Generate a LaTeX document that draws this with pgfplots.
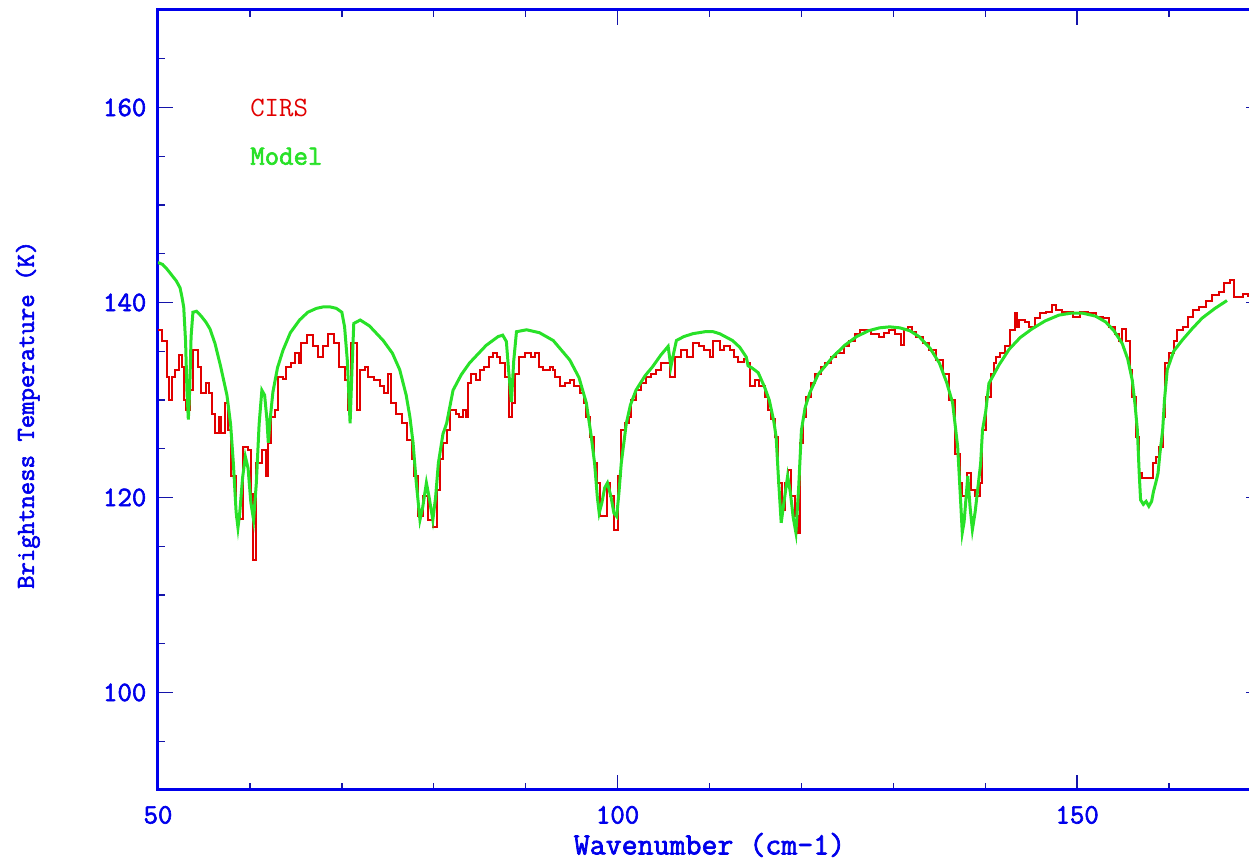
\documentclass[border=0pt]{standalone}
\usepackage{fontspec}
\setmonofont[AutoFakeBold=2.2]{Latin Modern Mono}
\usepackage{pgfplots}
\usepackage{pgfplotstable}
\pgfplotsset{compat=1.18}

\definecolor{axblue}{RGB}{0,0,235}
\definecolor{tickblue}{RGB}{20,20,170}
\definecolor{cirsred}{RGB}{225,0,0}
\definecolor{modelgreen}{RGB}{40,225,40}

% Observed CIRS brightness temperature (binned spectrum, drawn as steps)
\pgfplotstableread{
x y
50.0 137.2
50.4 136.1
51.0 132.4
51.2 130.0
51.5 132.4
51.8 133.1
52.3 134.6
52.6 133.4
52.85 130.0
53.1 129.0
53.5 131.0
53.8 135.1
54.4 133.4
54.7 130.7
55.2 131.7
55.5 130.7
55.9 128.6
56.2 126.6
56.6 128.3
56.9 126.6
57.3 129.7
57.6 126.9
57.9 122.2
58.5 118.0
58.9 117.8
59.3 125.2
59.8 124.9
60.1 120.4
60.35 113.6
60.7 123.5
61.3 124.9
61.7 122.2
62.0 125.6
62.3 128.3
62.7 129.0
63.1 132.4
63.6 132.2
63.9 133.4
64.5 133.8
64.9 134.8
65.3 133.8
65.6 135.8
66.2 136.65
66.9 135.5
67.4 134.4
67.9 135.5
68.5 136.8
69.2 135.8
69.7 133.4
70.3 132.0
70.7 129.0
71.0 135.8
71.6 129.0
72.0 133.1
72.5 133.4
72.9 132.4
73.5 132.0
74.1 131.4
74.6 130.7
75.0 132.7
75.4 129.7
75.9 128.6
76.5 127.6
77.1 125.9
77.6 123.9
77.9 122.2
78.3 118.05
78.8 120.1
79.4 117.7
79.9 117.0
80.3 120.8
80.7 123.9
81.0 125.6
81.4 126.9
81.8 129.0
82.4 128.6
82.8 128.3
83.2 129.0
83.5 128.3
83.7 131.7
84.1 132.7
84.6 132.0
85.0 133.1
85.5 133.4
86.0 134.4
86.5 134.8
86.9 134.4
87.2 133.8
87.7 132.4
88.2 128.3
88.5 129.7
88.8 132.7
89.3 134.4
89.9 134.8
90.6 134.4
91.0 134.8
91.4 133.4
91.9 133.1
92.6 133.4
93.0 133.1
93.2 132.4
93.7 131.4
94.3 131.7
94.8 132.0
95.3 131.4
95.9 130.7
96.3 129.7
96.6 128.3
97.0 126.2
97.4 123.5
97.8 121.5
98.1 118.05
98.8 121.5
99.2 120.1
99.6 116.7
100.0 122.2
100.4 126.9
100.8 127.6
101.2 128.3
101.5 130.0
102.0 131.0
102.6 131.7
103.1 132.4
103.6 132.7
104.2 133.1
104.7 133.8
105.7 132.4
106.2 134.4
106.9 135.1
107.6 134.4
108.2 135.8
108.9 135.5
109.4 135.1
110.0 134.4
110.4 136.1
111.1 135.1
111.6 135.5
112.2 135.1
112.7 134.4
113.1 133.9
113.7 134.2
114.1 133.8
114.4 131.4
114.9 132.0
115.4 131.4
116.0 130.3
116.4 129.0
116.7 128.0
117.1 126.2
117.5 121.5
117.9 118.7
118.2 121.5
118.5 122.8
118.9 120.1
119.3 118.05
119.6 116.4
119.9 125.6
120.2 128.3
120.5 130.3
121.0 131.7
121.5 132.7
122.1 133.4
122.6 133.8
123.2 134.4
123.8 134.8
124.6 135.5
125.2 136.1
125.8 136.8
126.4 137.2
127.6 136.8
128.4 136.5
129.0 136.9
129.5 137.2
130.2 136.8
130.8 135.6
131.2 137.3
131.6 137.5
132.0 137.0
132.5 136.5
133.2 135.8
133.9 135.1
134.6 134.1
135.4 132.7
136.1 130.0
136.7 124.5
137.2 121.5
137.5 120.1
138.0 122.5
138.4 120.8
138.9 120.1
139.4 121.5
139.7 126.9
140.1 130.3
140.6 132.7
141.0 133.8
141.2 134.4
141.6 134.8
142.1 135.5
142.7 137.2
143.2 138.9
143.4 137.5
143.7 138.2
144.3 138.0
144.8 137.5
145.4 138.4
146.0 138.9
146.6 139.0
147.3 139.7
147.7 139.2
148.4 139.0
149.5 138.5
150.3 139.0
151.2 138.9
152.0 138.5
152.8 138.4
153.5 137.5
154.1 136.8
154.6 136.1
154.9 137.3
155.3 136.1
155.7 133.1
156.0 130.3
156.4 126.2
156.7 122.5
157.1 122.0
158.2 123.5
158.6 124.2
158.9 125.2
159.3 128.3
159.6 133.8
160.0 134.8
160.5 136.1
160.9 137.2
161.5 137.5
162.1 138.5
162.6 139.2
163.3 139.5
164.0 140.2
164.7 140.8
165.4 141.1
166.0 142.0
166.6 142.3
167.1 140.6
168.0 140.9
168.6 140.7
169.2 140.9
170.0 140.9
}\cirsdata

% Synthetic model spectrum
\pgfplotstableread{
x y
50.0 144.1
50.5 143.9
51.0 143.4
51.5 142.8
52.0 142.2
52.4 141.5
52.6 140.6
52.8 139.5
53.0 136.0
53.15 131.0
53.3 128.0
53.45 131.0
53.6 136.5
53.8 139.0
54.2 139.1
54.7 138.6
55.2 138.0
55.65 137.3
56.2 135.8
56.8 133.5
57.5 130.5
57.9 127.5
58.2 123.5
58.5 118.5
58.7 116.9
58.9 118.5
59.2 122.0
59.5 124.2
59.8 123.0
60.1 119.5
60.4 117.7
60.7 121.5
61.0 127.5
61.3 131.0
61.6 130.5
61.85 128.0
62.0 125.6
62.2 128.0
62.5 130.8
63.0 133.3
63.6 135.1
64.4 136.9
65.4 138.2
66.3 139.0
67.25 139.4
68.0 139.55
68.7 139.55
69.4 139.4
70.0 139.0
70.3 137.5
70.6 134.0
70.9 127.6
71.1 133.0
71.3 137.85
72.0 138.2
73.0 137.6
74.5 136.1
75.5 134.8
76.3 133.1
77.0 130.5
77.4 128.3
77.75 125.6
78.1 121.5
78.5 117.7
78.8 119.0
79.2 121.5
79.5 120.0
79.9 117.7
80.2 120.0
80.5 123.5
81.0 126.5
81.4 127.6
82.1 131.0
83.0 132.6
83.9 133.8
85.7 135.6
87.0 136.5
87.5 136.65
87.9 136.0
88.15 133.0
88.45 129.8
88.7 134.0
89.0 137.0
90.1 137.2
91.5 136.9
93.0 136.1
94.8 134.1
95.8 132.3
96.6 129.7
97.1 126.5
97.5 123.5
97.8 120.0
98.0 118.4
98.3 119.5
98.6 121.0
98.9 121.5
99.3 120.0
99.6 118.4
99.9 118.05
100.15 120.5
100.4 123.5
100.95 127.6
101.4 129.5
102.0 131.0
103.0 132.5
103.8 133.4
104.7 134.6
105.5 135.5
105.8 133.4
106.1 134.8
106.4 136.1
107.2 136.5
108.2 136.8
109.5 137.0
110.4 137.0
111.1 136.8
112.5 136.1
113.3 135.4
114.0 134.4
114.2 133.5
114.6 133.3
115.3 132.8
116.0 131.3
116.5 130.0
117.0 127.8
117.25 126.2
117.5 122.0
117.8 117.4
118.1 119.5
118.5 122.2
118.8 120.5
119.1 118.0
119.4 116.4
119.7 121.0
120.0 126.9
120.4 129.2
120.9 130.7
121.8 132.6
123.4 134.4
124.7 135.6
126.0 136.5
127.3 137.1
128.5 137.4
129.6 137.5
130.7 137.4
131.8 137.1
132.8 136.5
134.0 135.3
135.0 133.8
135.8 131.8
136.45 129.7
137.0 125.2
137.3 120.0
137.5 116.4
137.7 117.5
138.1 122.2
138.35 119.0
138.6 116.7
138.9 118.5
139.2 121.0
139.5 123.5
139.7 126.9
140.05 128.8
140.4 131.7
141.5 133.6
142.6 135.2
143.8 136.4
145.1 137.3
146.5 138.1
148.0 138.7
149.3 138.9
150.6 138.9
152.0 138.6
153.1 138.0
154.0 137.1
154.9 135.8
155.5 134.2
156.0 132.0
156.3 129.5
156.55 126.9
156.75 122.5
156.9 119.75
157.2 119.3
157.5 119.6
157.8 119.1
158.1 119.6
158.3 120.6
158.55 121.5
158.8 122.5
159.0 124.5
159.3 126.9
159.5 130.0
159.8 133.1
160.5 135.0
161.4 136.1
162.5 137.3
163.6 138.4
165.0 139.4
166.3 140.2
}\modeldata

\begin{document}
\begin{tikzpicture}
\begin{axis}[
  width=551.5pt, height=390pt, scale only axis,
  xmin=50, xmax=170, ymin=90, ymax=170,
  xtick={50,100,150},
  minor xtick={60,70,80,90,110,120,130,140,160},
  ytick={100,120,140,160},
  minor ytick={95,105,110,115,125,130,135,145,150,155,165},
  tick align=inside,
  major tick length=7.5pt, minor tick length=3.5pt,
  axis line style={axblue, line width=1.5pt},
  every tick/.style={tickblue, line width=0.7pt},
  /pgf/number format/assume math mode=true,
  ticklabel style={font=\ttfamily\bfseries\fontsize{14}{16}\selectfont, text=axblue},
  xticklabel shift=4.5pt,
  yticklabel shift=2.3pt,
  xlabel={Wavenumber (cm-1)},
  ylabel={Brightness Temperature (K)},
  xlabel style={font=\ttfamily\bfseries\fontsize{15.5}{17}\selectfont, text=axblue,
    at={(axis description cs:0.5,-0.0705)}, anchor=center},
  ylabel style={font=\ttfamily\bfseries\fontsize{13}{15}\selectfont, text=axblue,
    at={(axis description cs:-0.118,0.481)}, anchor=center},
]
\addplot[const plot, cirsred, line width=1pt] table[x=x, y=y] {\cirsdata};
\addplot[sharp plot, modelgreen, line width=1.5pt] table[x=x, y=y] {\modeldata};
\node[anchor=west, text=cirsred, inner sep=0pt,
  font=\ttfamily\fontsize{14}{16}\selectfont] at (axis cs:60,160) {CIRS};
\node[anchor=west, text=modelgreen, inner sep=0pt,
  font=\ttfamily\bfseries\fontsize{14}{16}\selectfont] at (axis cs:60,155) {Model};
\end{axis}
\pgfresetboundingbox
\path[use as bounding box]
  ([xshift=-79pt,yshift=-35pt]current axis.south west)
  rectangle ([xshift=-6pt,yshift=5pt]current axis.north east);
\end{tikzpicture}
\end{document}
